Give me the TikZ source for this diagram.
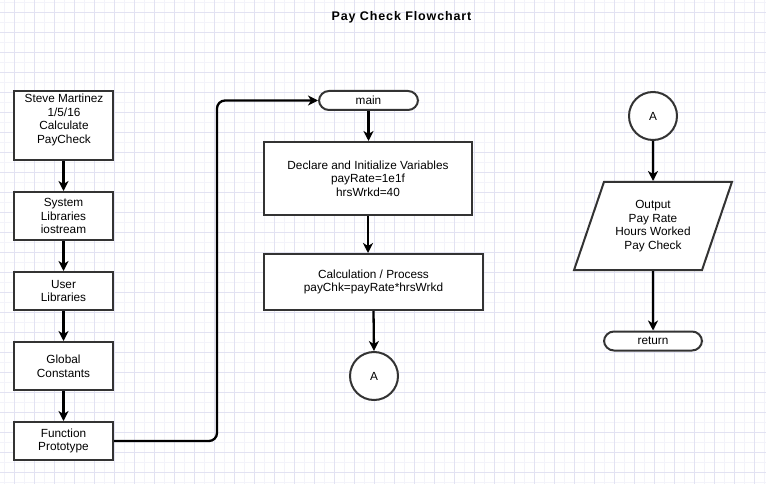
\documentclass[tikz,border=0pt]{standalone}
\usepackage{fontspec}
\setmainfont{Liberation Sans}
\usetikzlibrary{arrows.meta,shapes.geometric,calc}
\definecolor{gridmajor}{HTML}{E2E2F2}
\definecolor{gridminor}{HTML}{F3F3FA}
\definecolor{border}{HTML}{333333}
\tikzset{
  every node/.style={font=\fontsize{11.8}{13.6}\selectfont, align=center, inner sep=0pt},
  boxnode/.style={draw=border, line width=2pt, fill=white, rectangle},
  termnode/.style={draw=border, line width=2pt, fill=white, rectangle, rounded corners=10pt},
  connnode/.style={draw=border, line width=2pt, fill=white, circle, minimum size=48pt},
  iobox/.style={draw=border, line width=2pt, fill=white, trapezium, trapezium left angle=66, trapezium right angle=114, trapezium stretches=true, minimum width=158pt, minimum height=88pt},
  conn/.style={draw=black, line width=2.3pt, -{Stealth[length=10pt,width=10pt,inset=3pt]}},
}
\begin{document}
\begin{tikzpicture}[x=1pt,y=-1pt]
\useasboundingbox (0,0) rectangle (766,484);
\fill[white] (0,0) rectangle (766,484);
% grid
\foreach \x in {4,14,...,764} \draw[gridminor, line width=0.6pt] (\x,0) -- (\x,484);
\foreach \y in {2,12,...,482} \draw[gridminor, line width=0.6pt] (0,\y) -- (766,\y);
\foreach \x in {14,34,...,754} \draw[gridmajor, line width=0.8pt] (\x,0) -- (\x,484);
\foreach \y in {12,32,...,472} \draw[gridmajor, line width=0.8pt] (0,\y) -- (766,\y);

\node[font=\bfseries\fontsize{12.5}{14}\selectfont\addfontfeature{LetterSpace=7}] (title) at (401.5,17.5) {Pay Check Flowchart};

% left column
\node[boxnode, minimum width=99pt, minimum height=69pt] (b1) at (63.5,125.5) {};
\node[anchor=north] (b1t) at (64,94) {Steve Martinez\\1/5/16\\Calculate\\PayCheck};
\node[boxnode, minimum width=99pt, minimum height=48pt] (b2) at (63.5,216) {System\\Libraries\\iostream};
\node[boxnode, minimum width=99pt, minimum height=38pt] (b3) at (63.5,291) {User\\Libraries};
\node[boxnode, minimum width=99pt, minimum height=48pt] (b4) at (63.5,366) {Global\\Constants};
\node[boxnode, minimum width=99pt, minimum height=38pt] (b5) at (63.5,441) {Function\\Prototype};

% middle column
\node[termnode, minimum width=99pt, minimum height=19pt] (main) at (368.5,100.5) {main};
\node[boxnode, minimum width=208pt, minimum height=73pt] (decl) at (368,178.5) {Declare and Initialize Variables\\payRate=1e1f\\hrsWrkd=40};
\node[boxnode, minimum width=219pt, minimum height=56pt] (calc) at (373.5,282) {Calculation / Process\\payChk=payRate*hrsWrkd};
\node[connnode] (a1) at (374,376) {A};

% right column
\node[connnode] (a2) at (653,116) {A};
\node[iobox] (out) at (653,226) {Output\\Pay Rate\\Hours Worked\\Pay Check};
\node[termnode, minimum width=98pt, minimum height=19pt] (ret) at (653,341) {return};

% connectors
\coordinate (bend) at (217,441);
\draw[conn] (b1.south) -- (b2.north);
\draw[conn] (b2.south) -- (b3.north);
\draw[conn] (b3.south) -- (b4.north);
\draw[conn] (b4.south) -- (b5.north);
\draw[conn, rounded corners=8pt] (b5.east) -- (bend) -- (bend |- main.west) -- (main.west);
\draw[conn] (main.south) -- (main.south |- decl.north);
\draw[conn] (decl.south) -- (decl.south |- calc.north);
\draw[conn] (calc.south) -- (a1.north);
\draw[conn] (a2.south) -- (out.north);
\draw[conn] (out.south) -- (ret.north);
\end{tikzpicture}
\end{document}
